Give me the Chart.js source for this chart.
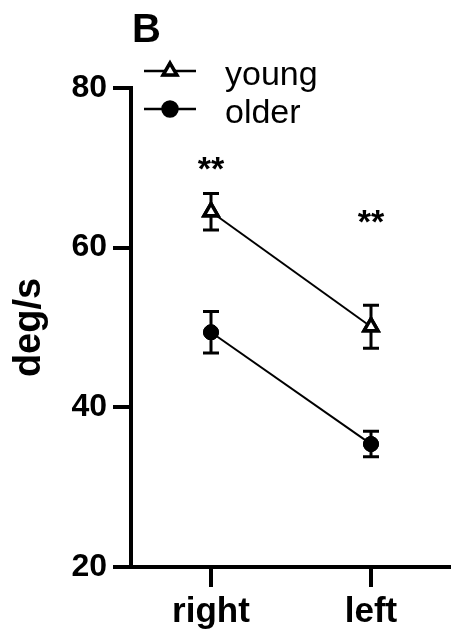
<!DOCTYPE html>
<html>
<head>
<meta charset="utf-8">
<script src="https://cdn.jsdelivr.net/npm/chart.js@4/dist/chart.umd.min.js"></script>
<style>
  html, body { margin: 0; padding: 0; background: #fff; overflow: hidden; }
  #wrap { width: 451px; height: 634px; }
  canvas { display: block; }
</style>
</head>
<body>
<div id="wrap"><canvas id="chart"></canvas></div>
<script>
// Data
const categories = ['right', 'left'];
const youngMean = [64.5, 50.1];
const youngErr = [2.3, 2.7];
const olderMean = [49.4, 35.4];
const olderErr = [2.6, 1.6];
const starLabels = ['**', '**'];
const starValues = [69.7, 63.0];
const yTicks = [20, 40, 60, 80];

const FONT = "'Liberation Sans', Arial, sans-serif";

function points(means) {
    return means.map((v, i) => ({ x: i, y: v }));
}

// error bars, legend and annotations
const extras = {
    id: 'extras',
    afterDatasetsDraw(chart) {
        const ctx = chart.ctx;
        const xs = chart.scales.x, ys = chart.scales.y;
        ctx.save();
        ctx.strokeStyle = '#000';
        ctx.lineWidth = 3;
        [[youngMean, youngErr], [olderMean, olderErr]].forEach(([m, e]) => {
            m.forEach((v, i) => {
                const px = xs.getPixelForValue(i);
                const top = ys.getPixelForValue(v + e[i]);
                const bot = ys.getPixelForValue(v - e[i]);
                ctx.beginPath();
                ctx.moveTo(px, top); ctx.lineTo(px, bot);
                ctx.moveTo(px - 8, top); ctx.lineTo(px + 8, top);
                ctx.moveTo(px - 8, bot); ctx.lineTo(px + 8, bot);
                ctx.stroke();
            });
        });
        ctx.restore();

        // redraw markers on top of the error bars
        chart.getSortedVisibleDatasetMetas().forEach(meta => {
            meta.data.forEach(el => el.draw(ctx, chart.chartArea));
        });

        ctx.save();
        ctx.fillStyle = '#000';
        ctx.textAlign = 'center';
        ctx.textBaseline = 'middle';
        ctx.font = 'bold 34px ' + FONT;
        starLabels.forEach((s, i) => {
            ctx.fillText(s, xs.getPixelForValue(i), ys.getPixelForValue(starValues[i]));
        });

        // panel letter
        ctx.textAlign = 'left';
        ctx.textBaseline = 'alphabetic';
        ctx.font = 'bold 40px ' + FONT;
        ctx.fillText('B', 132, 42);

        // legend
        const items = [
            { label: 'young', ds: chart.data.datasets[0], y: 71 },
            { label: 'older', ds: chart.data.datasets[1], y: 109 }
        ];
        ctx.font = '34px ' + FONT;
        ctx.textBaseline = 'middle';
        items.forEach(it => {
            ctx.strokeStyle = '#000';
            ctx.lineWidth = 2.5;
            ctx.beginPath();
            ctx.moveTo(144, it.y); ctx.lineTo(196, it.y);
            ctx.stroke();
            Chart.helpers.drawPoint(ctx, {
                pointStyle: it.ds.pointStyle,
                radius: it.ds.pointRadius,
                borderWidth: it.ds.pointBorderWidth,
                rotation: 0
            }, 170, it.y);
            ctx.fillStyle = it.ds.pointBackgroundColor;
            ctx.strokeStyle = '#000';
            ctx.lineWidth = it.ds.pointBorderWidth;
            ctx.fill();
            ctx.stroke();
            ctx.fillStyle = '#000';
            ctx.fillText(it.label, 225, it.y + 5);
        });
        ctx.restore();
    }
};

new Chart(document.getElementById('chart'), {
    type: 'line',
    data: {
        datasets: [
            {
                label: 'young',
                data: points(youngMean),
                borderColor: '#000',
                borderWidth: 2,
                pointStyle: 'triangle',
                pointRadius: 8,
                pointBorderWidth: 3.5,
                pointBackgroundColor: '#fff',
                pointBorderColor: '#000'
            },
            {
                label: 'older',
                data: points(olderMean),
                borderColor: '#000',
                borderWidth: 2,
                pointStyle: 'circle',
                pointRadius: 7.5,
                pointBorderWidth: 1,
                pointBackgroundColor: '#000',
                pointBorderColor: '#000'
            }
        ]
    },
    options: {
        responsive: true,
        maintainAspectRatio: false,
        animation: false,
        layout: { autoPadding: false, padding: { top: 88, left: 0, right: 0, bottom: 0 } },
        plugins: { legend: { display: false }, tooltip: { enabled: false } },
        scales: {
            x: {
                type: 'linear',
                min: -0.5,
                max: 1.5,
                afterBuildTicks: axis => { axis.ticks = categories.map((c, i) => ({ value: i })); },
                afterFit: axis => {
                    axis.height = 67;
                    axis.paddingLeft = 0;
                    axis.paddingRight = 0;
                },
                ticks: {
                    callback: v => categories[v],
                    color: '#000',
                    padding: 4,
                    font: { family: FONT, size: 35, weight: 'bold' }
                },
                grid: { drawOnChartArea: false, tickLength: 20, lineWidth: 4, color: '#000' },
                border: { display: true, width: 4, color: '#000' }
            },
            y: {
                min: 20,
                max: 80,
                afterBuildTicks: axis => { axis.ticks = yTicks.map(v => ({ value: v })); },
                afterFit: axis => { axis.width = 131; },
                ticks: {
                    color: '#000',
                    padding: 6,
                    font: { family: FONT, size: 32, weight: 'bold' }
                },
                grid: { drawOnChartArea: false, tickLength: 18, lineWidth: 4, color: '#000' },
                border: { display: true, width: 4, color: '#000' },
                title: {
                    display: true,
                    text: 'deg/s',
                    color: '#000',
                    padding: { top: 7 },
                    font: { family: FONT, size: 38, weight: 'bold' }
                }
            }
        }
    },
    plugins: [extras]
});
</script>
</body>
</html>
